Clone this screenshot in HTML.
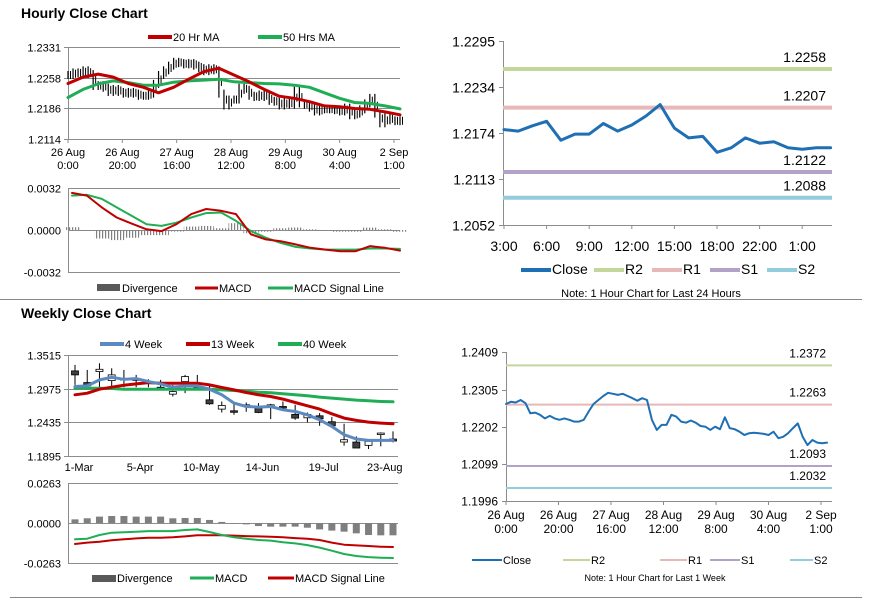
<!DOCTYPE html>
<html><head><meta charset="utf-8">
<style>
html,body{margin:0;padding:0;background:#fff;}
body{width:873px;height:601px;overflow:hidden;font-family:"Liberation Sans",Arial,sans-serif;}
svg{display:block}
text{font-family:"Liberation Sans",Arial,sans-serif;fill:#000;}
</style></head>
<body>
<svg id="root" width="873" height="601" viewBox="0 0 873 601">
<defs>
<pattern id="stripes" width="3" height="4" patternUnits="userSpaceOnUse">
<rect x="0" y="0" width="1.2" height="4" fill="#808080"/>
</pattern>
</defs>
<text x="21" y="18" font-size="14" font-weight="bold">Hourly Close Chart</text>
<text x="21" y="318" font-size="14" font-weight="bold">Weekly Close Chart</text>
<line x1="0" y1="299.5" x2="862" y2="299.5" stroke="#888" stroke-width="1"/>
<line x1="10" y1="597.5" x2="862" y2="597.5" stroke="#888" stroke-width="1"/>
</svg>
<script>
// ---------- Hourly (last week) close data, shared by top-left and bottom-right ----------
const weekClose = [1.2265,1.2271,1.2269,1.2276,1.2267,1.2239,1.2241,1.2235,1.2225,1.2232,1.2225,1.2221,1.2225,1.2221,1.2216,1.2216,1.2221,1.2244,1.2265,1.2276,1.2287,1.2296,1.2293,1.2290,1.2293,1.2287,1.2281,1.2274,1.2281,1.2276,1.2221,1.2193,1.2207,1.2207,1.2235,1.2230,1.2216,1.2213,1.2219,1.2213,1.2204,1.2202,1.2193,1.2202,1.2195,1.2228,1.2198,1.2195,1.2188,1.2179,1.2184,1.2185,1.2184,1.2182,1.2179,1.2188,1.2170,1.2174,1.2184,1.2198,1.2211,1.2174,1.2151,1.2165,1.2158,1.2156,1.2158];
const hourlyTimeLabels = [["26 Aug","0:00"],["26 Aug","20:00"],["27 Aug","16:00"],["28 Aug","12:00"],["29 Aug","8:00"],["30 Aug","4:00"],["2 Sep","1:00"]];
const ma20 = [1.2245,1.2260,1.2267,1.2260,1.2245,1.2236,1.2223,1.2236,1.2255,1.2273,1.2281,1.2265,1.2249,1.2231,1.2215,1.2210,1.2202,1.2192,1.2190,1.2186,1.2184,1.2178,1.2171];
const ma50 = [1.2212,1.2231,1.2244,1.2251,1.2247,1.2241,1.2241,1.2248,1.2251,1.2253,1.2255,1.2249,1.2247,1.2245,1.2244,1.2241,1.2236,1.2223,1.2210,1.2200,1.2198,1.2192,1.2185];
const hourlyPriceTicks = [1.2331,1.2258,1.2186,1.2114];
const hMacd = [0.00283,0.00262,0.00172,0.00095,0.00049,0.00005,-0.00008,0.00044,0.00121,0.0016,0.00146,0.00121,-0.00033,-0.00072,-0.00085,-0.0011,-0.00136,-0.00149,-0.00162,-0.00162,-0.00123,-0.00136,-0.00157];
const hSignal = [0.00262,0.00268,0.00237,0.00172,0.00108,0.00044,0.00031,0.00056,0.00095,0.00129,0.00133,0.00069,-0.00008,-0.00059,-0.00098,-0.00129,-0.00141,-0.00149,-0.00149,-0.00149,-0.00141,-0.00141,-0.00144];
const hMacdTicks = [0.0032,0.0000,-0.0032];

// ---------- Last 24 hours ----------
const dayHours = ["3:00","4:00","5:00","6:00","7:00","8:00","9:00","10:00","11:00","12:00","13:00","14:00","15:00","16:00","17:00","18:00","19:00","20:00","22:00","23:00","0:00","1:00","2:00","3:00"];
const dayClose = [1.2178,1.2176,1.2183,1.2189,1.2164,1.2172,1.2172,1.2186,1.2176,1.2184,1.2196,1.2211,1.2180,1.2167,1.2169,1.2148,1.2154,1.2167,1.2160,1.2162,1.2154,1.2152,1.2154,1.2154];
const dayTicks = [1.2295,1.2234,1.2174,1.2113,1.2052];
const dayLevelNames = ["R2","R1","S1","S2"];
const dayLevels = [1.2258,1.2207,1.2122,1.2088];

// ---------- Last week levels ----------
const weekTicks = [1.2409,1.2305,1.2202,1.2099,1.1996];
const weekLevels = [1.2372,1.2263,1.2093,1.2032];

// ---------- Weekly candles ----------
const weeks = ["1-Mar","8-Mar","15-Mar","22-Mar","29-Mar","5-Apr","12-Apr","19-Apr","26-Apr","3-May","10-May","17-May","24-May","31-May","7-Jun","14-Jun","21-Jun","28-Jun","5-Jul","12-Jul","19-Jul","26-Jul","2-Aug","9-Aug","16-Aug","23-Aug","30-Aug"];
const wOpen  = [1.3260,1.3073,1.3249,1.3105,1.3137,1.3132,1.3089,1.2998,1.2887,1.3089,1.2998,1.2796,1.2647,1.2620,1.2689,1.2663,1.2679,1.2689,1.2562,1.2508,1.2540,1.2444,1.2119,1.2119,1.2066,1.2252,1.2167];
const wClose = [1.3196,1.3020,1.3286,1.3196,1.3126,1.3126,1.3084,1.2982,1.2929,1.3169,1.2982,1.2732,1.2705,1.2604,1.2716,1.2593,1.2716,1.2679,1.2503,1.2562,1.2492,1.2380,1.2156,1.2023,1.2130,1.2263,1.2135];
const wHigh  = [1.3356,1.3276,1.3382,1.3302,1.3276,1.3196,1.3126,1.3116,1.3036,1.3196,1.3196,1.3036,1.2769,1.2732,1.2753,1.2743,1.2732,1.2769,1.2716,1.2593,1.2583,1.2519,1.2412,1.2210,1.2156,1.2274,1.2290];
const wLow   = [1.3036,1.2998,1.2998,1.2998,1.2998,1.2998,1.2998,1.2982,1.2849,1.2903,1.2956,1.2716,1.2593,1.2556,1.2604,1.2583,1.2487,1.2636,1.2476,1.2434,1.2380,1.2380,1.2060,1.2023,1.2007,1.2050,1.2114];
const w4 = [1.3009,1.3020,1.3116,1.3158,1.3126,1.3137,1.3089,1.3052,1.2999,1.3020,1.3020,1.2967,1.2876,1.2743,1.2689,1.2679,1.2689,1.2636,1.2609,1.2556,1.2476,1.2370,1.2236,1.2167,1.2146,1.2146,1.2146];
const w13 = [1.2876,1.2903,1.2967,1.2999,1.3031,1.3052,1.3073,1.3062,1.3062,1.3062,1.3062,1.3036,1.2993,1.2956,1.2913,1.2876,1.2849,1.2807,1.2753,1.2700,1.2647,1.2572,1.2503,1.2466,1.2439,1.2423,1.2412];
const w40 = [1.2983,1.2983,1.2983,1.2977,1.2967,1.2967,1.2967,1.2967,1.2967,1.2967,1.2967,1.2967,1.2956,1.2945,1.2935,1.2919,1.2908,1.2892,1.2876,1.2860,1.2839,1.2823,1.2807,1.2791,1.2780,1.2769,1.2764];
const wPriceTicks = [1.3515,1.2975,1.2435,1.1895];
const wDiv = [0.0024,0.0031,0.0042,0.0046,0.0046,0.0042,0.0042,0.0042,0.0031,0.0033,0.0033,0.0020,0.0007,-0.0002,-0.0009,-0.0020,-0.0024,-0.0024,-0.0024,-0.0031,-0.0042,-0.0050,-0.0057,-0.0068,-0.0079,-0.0081,-0.0081];
const wMacd = [-0.0107,-0.0103,-0.0079,-0.0064,-0.0061,-0.0057,-0.0053,-0.0053,-0.0053,-0.0046,-0.0042,-0.0059,-0.0079,-0.0094,-0.0103,-0.0112,-0.0116,-0.0127,-0.0134,-0.0145,-0.0162,-0.0182,-0.0204,-0.0217,-0.0224,-0.0228,-0.0230];
const wSignal = [-0.0138,-0.0129,-0.0123,-0.0114,-0.0107,-0.0101,-0.0097,-0.0097,-0.0094,-0.0088,-0.0081,-0.0081,-0.0081,-0.0083,-0.0086,-0.0088,-0.0090,-0.0094,-0.0099,-0.0103,-0.0112,-0.0129,-0.0143,-0.0147,-0.0151,-0.0156,-0.0158];
const wMacdTicks = [0.0263,0.0000,-0.0263];
const weekLabelIdx = [0,5,10,15,20,25];

const root = document.getElementById('root');
const NS = 'http://www.w3.org/2000/svg';
function mk(tag, attrs, parent){
  const e = document.createElementNS(NS, tag);
  for (const k in attrs) e.setAttribute(k, attrs[k]);
  (parent||root).appendChild(e);
  return e;
}
function group(name){
  const g = mk('g', {});
  
  
  return g;
}
function lin(v0, v1, p0, p1){ return v => p0 + (v - v0) / (v1 - v0) * (p1 - p0); }
function txt(g, x, y, s, size, anchor){
  const t = mk('text', {x:x, y:y, 'font-size':size||11, 'text-anchor':anchor||'start'}, g);
  t.textContent = s;
  return t;
}
function poly(g, xs, ys, color, w){
  const pts = xs.map((x,i)=>x.toFixed(1)+','+ys[i].toFixed(1)).join(' ');
  return mk('polyline', {points:pts, fill:'none', stroke:color, 'stroke-width':w, 'stroke-linejoin':'round','stroke-linecap':'round'}, g);
}
function yAxis(g, ticks, y, x0, x1, fmtSize, grid){
  ticks.forEach((t,i)=>{
    const yy = Math.round(y(t))+0.5;
    if (grid && i < ticks.length-1) mk('line',{x1:x0,y1:yy,x2:x1,y2:yy,stroke:'#8c8c8c','stroke-width':1},g);
    mk('line',{x1:x0-4,y1:yy,x2:x0,y2:yy,stroke:'#8c8c8c'},g);
    txt(g, x0-7, yy+4, t.toFixed(4), fmtSize||11, 'end');
  });
  mk('line',{x1:x0+0.5,y1:y(ticks[0]),x2:x0+0.5,y2:y(ticks[ticks.length-1]),stroke:'#8c8c8c'},g);
}
function legendItem(g, x, y, color, w, label, len){
  mk('line',{x1:x,y1:y,x2:x+(len||24),y2:y,stroke:color,'stroke-width':w},g);
  txt(g, x+(len||24)+1, y+4, label, 11);
}

// ================= Hourly close (top-left) =================
(function(){
  const g = group('hourly-price-chart');
  const X0 = 68, X1 = 400;
  const y = lin(1.2331, 1.2114, 47, 139);
  yAxis(g, hourlyPriceTicks, y, X0, X1, 11, true);
  mk('line',{x1:X0,y1:139.5,x2:X1,y2:139.5,stroke:'#8c8c8c'},g);
  const xb = i => X0 + i * (X1 - X0) / (weekClose.length - 1);
  weekClose.forEach((c,i)=>{
    const p = i>0 ? weekClose[i-1] : c;
    const hi = Math.max(c,p), lo = Math.min(c,p);
    const b = mk('line',{x1:xb(i),x2:xb(i),y1:y(hi)-4,y2:y(lo)+4,stroke:'#000','stroke-width':1.2},g);
    
    
    const b2 = mk('line',{x1:xb(i)+2.5,x2:xb(i)+2.5,y1:(y(c)+y(p))/2-4,y2:(y(c)+y(p))/2+4,stroke:'#000','stroke-width':1},g);
    
    
  });
  const xm = arr => arr.map((_,i)=> X0 + i*(X1-X0)/(arr.length-1));
  const l50 = poly(g, xm(ma50), ma50.map(y), '#1fae55', 3);
  
  
  const l20 = poly(g, xm(ma20), ma20.map(y), '#c00000', 3);
  
  
  hourlyTimeLabels.forEach((l,k)=>{
    const xx = X0 + k*(394-X0)/6;
    mk('line',{x1:xx,y1:139,x2:xx,y2:143,stroke:'#8c8c8c'},g);
    txt(g, xx, 156, l[0], 11, 'middle');
    txt(g, xx, 169, l[1], 11, 'middle');
  });
  const lg = group('hourly-legend');
  legendItem(lg, 148, 37, '#c00000', 4, '20 Hr MA');
  legendItem(lg, 258, 37, '#1fae55', 4, '50 Hrs MA');
})();

// ================= Hourly MACD =================
(function(){
  const g = group('hourly-macd-chart');
  const X0 = 68, X1 = 400;
  const y = lin(0.0032, -0.0032, 188, 272);
  hMacdTicks.forEach((t,i)=>{
    const yy = Math.round(y(t))+0.5;
    mk('line',{x1:X0,y1:yy,x2:X1,y2:yy,stroke:'#8c8c8c'},g);
    txt(g, X0-7, yy+4, t.toFixed(4), 11, 'end');
  });
  mk('line',{x1:X0+0.5,y1:188,x2:X0+0.5,y2:272,stroke:'#8c8c8c'},g);
  const step = (X1-X0-4)/(hMacd.length-1);
  const xs = hMacd.map((_,i)=> X0 + 4 + i*step);
  hMacd.forEach((m,i)=>{
    const d = m - hSignal[i];
    const r = mk('rect',{x:xs[i]-step/2,y:Math.min(y(d),y(0)),width:step,height:Math.max(1,Math.abs(y(d)-y(0))),fill:'url(#stripes)'},g);
    
    
  });
  const s = poly(g, xs, hSignal.map(y), '#1fae55', 2);
  
  
  const m = poly(g, xs, hMacd.map(y), '#c00000', 2);
  
  
  const lg = group('hourly-macd-legend');
  mk('rect',{x:97,y:284,width:23,height:7,fill:'#595959'},lg);
  txt(lg, 122, 292, 'Divergence', 11);
  legendItem(lg, 195, 288, '#c00000', 3, 'MACD', 23);
  legendItem(lg, 268, 288, '#1fae55', 3, 'MACD Signal Line', 25);
})();

// ================= Last 24 hours (top-right) =================
(function(){
  const g = group('day-levels-chart');
  const X0 = 503, X1 = 832;
  const y = lin(1.2295, 1.2052, 41, 225);
  const x = i => 504 + i * 14.2;
  dayTicks.forEach(t=>{
    const yy = Math.round(y(t))+0.5;
    mk('line',{x1:X0-4,y1:yy,x2:X0,y2:yy,stroke:'#8c8c8c'},g);
    txt(g, X0-8, yy+5, t.toFixed(4), 14, 'end');
  });
  mk('line',{x1:X0+0.5,y1:41,x2:X0+0.5,y2:225,stroke:'#8c8c8c'},g);
  mk('line',{x1:X0,y1:225.5,x2:X1,y2:225.5,stroke:'#8c8c8c'},g);
  const colors = ['#c3d69b','#e6b9b8','#b3a2c7','#93cddd'];
  dayLevels.forEach((v,i)=>{
    const l = mk('line',{x1:X0,y1:y(v),x2:X1,y2:y(v),stroke:colors[i],'stroke-width':4},g);
    
    
    txt(g, 826, y(v)-7, v.toFixed(4), 14, 'end');
  });
  const c = poly(g, dayClose.map((_,i)=>x(i)), dayClose.map(y), '#1f6fb4', 3);
  
  
  dayHours.forEach((h,i)=>{
    if (i % 3 !== 0) return;
    mk('line',{x1:x(i),y1:225,x2:x(i),y2:229,stroke:'#8c8c8c'},g);
    txt(g, x(i), 251, h, 14, 'middle');
  });
  const lg = group('day-legend');
  legendItem(lg, 521, 270, '#1f6fb4', 4, 'Close', 30);
  legendItem(lg, 594, 270, '#c3d69b', 4, 'R2', 30);
  legendItem(lg, 652, 270, '#e6b9b8', 4, 'R1', 30);
  legendItem(lg, 710, 270, '#b3a2c7', 4, 'S1', 30);
  legendItem(lg, 767, 270, '#93cddd', 4, 'S2', 30);
  lg.querySelectorAll('text').forEach(t=>t.setAttribute('font-size','14'));
  txt(lg, 651, 297, 'Note: 1 Hour Chart for Last 24 Hours', 11, 'middle');
})();

// ================= Weekly close (bottom-left) =================
(function(){
  const g = group('weekly-price-chart');
  const X0 = 68, X1 = 398;
  const y = lin(1.3515, 1.1895, 355, 456);
  yAxis(g, wPriceTicks, y, X0, X1, 11, true);
  mk('line',{x1:X0,y1:456.5,x2:X1,y2:456.5,stroke:'#8c8c8c'},g);
  const x = i => 75 + i * (393 - 75) / (weeks.length - 1);
  weeks.forEach((w,i)=>{
    const cg = group('weekly-candle');
    g.appendChild(cg);
    mk('line',{x1:x(i),x2:x(i),y1:y(wHigh[i]),y2:y(wLow[i]),stroke:'#000','stroke-width':1},cg);
    const top = Math.min(y(wOpen[i]),y(wClose[i])), h = Math.max(1.5, Math.abs(y(wOpen[i])-y(wClose[i])));
    const up = wClose[i] >= wOpen[i];
    mk('rect',{x:x(i)-3.5,y:top,width:7,height:h,fill: up ? '#fff' : '#404040',stroke:'#000','stroke-width':0.8},cg);
  });
  const l40 = poly(g, w40.map((_,i)=>x(i)), w40.map(y), '#1fae55', 3);
  
  
  const l13 = poly(g, w13.map((_,i)=>x(i)), w13.map(y), '#c00000', 3);
  
  
  const l4 = poly(g, w4.map((_,i)=>x(i)), w4.map(y), '#5b8ac0', 3);
  
  
  weekLabelIdx.forEach(i=>{
    txt(g, x(i)+4, 471, weeks[i], 11, 'middle');
  });
  const lg = group('weekly-legend');
  legendItem(lg, 100, 344, '#5b8ac0', 4, '4 Week');
  legendItem(lg, 186, 344, '#c00000', 4, '13 Week');
  legendItem(lg, 278, 344, '#1fae55', 4, '40 Week');
})();

// ================= Weekly MACD =================
(function(){
  const g = group('weekly-macd-chart');
  const X0 = 68, X1 = 398;
  const y = lin(0.0263, -0.0263, 483, 563);
  wMacdTicks.forEach(t=>{
    const yy = Math.round(y(t))+0.5;
    mk('line',{x1:X0,y1:yy,x2:X1,y2:yy,stroke:'#8c8c8c'},g);
    txt(g, X0-7, yy+4, t.toFixed(4), 11, 'end');
  });
  mk('line',{x1:X0+0.5,y1:483,x2:X0+0.5,y2:563,stroke:'#8c8c8c'},g);
  const x = i => 75 + i * (393 - 75) / (weeks.length - 1);
  wDiv.forEach((d,i)=>{
    const r = mk('rect',{x:x(i)-3.5,y:Math.min(y(d),y(0)),width:7,height:Math.max(0.5,Math.abs(y(d)-y(0))),fill:'#7f7f7f'},g);
    
    
  });
  const s = poly(g, wSignal.map((_,i)=>x(i)), wSignal.map(y), '#c00000', 2);
  
  
  const m = poly(g, wMacd.map((_,i)=>x(i)), wMacd.map(y), '#1fae55', 2);
  
  
  const lg = group('weekly-macd-legend');
  mk('rect',{x:92,y:575,width:24,height:7,fill:'#595959'},lg);
  txt(lg, 117, 582, 'Divergence', 11);
  legendItem(lg, 190, 578, '#1fae55', 3, 'MACD', 24);
  legendItem(lg, 268, 578, '#c00000', 3, 'MACD Signal Line', 26);
})();

// ================= Last week (bottom-right) =================
(function(){
  const g = group('week-levels-chart');
  const X0 = 506, X1 = 832;
  const y = lin(1.2409, 1.1996, 352, 501);
  weekTicks.forEach(t=>{
    const yy = Math.round(y(t))+0.5;
    mk('line',{x1:X0-4,y1:yy,x2:X0,y2:yy,stroke:'#8c8c8c'},g);
    txt(g, X0-8, yy+4, t.toFixed(4), 12, 'end');
  });
  mk('line',{x1:X0+0.5,y1:352,x2:X0+0.5,y2:501,stroke:'#8c8c8c'},g);
  mk('line',{x1:X0,y1:501.5,x2:X1,y2:501.5,stroke:'#8c8c8c'},g);
  const colors = ['#c3d69b','#e6b9b8','#b3a2c7','#93cddd'];
  weekLevels.forEach((v,i)=>{
    const l = mk('line',{x1:X0,y1:y(v),x2:X1,y2:y(v),stroke:colors[i],'stroke-width':2},g);
    
    
    txt(g, 826, y(v)-8, v.toFixed(4), 12, 'end');
  });
  const x = i => X0 + i * (827 - X0) / (weekClose.length - 1);
  const c = poly(g, weekClose.map((_,i)=>x(i)), weekClose.map(y), '#1f6fb4', 2);
  
  
  hourlyTimeLabels.forEach((l,k)=>{
    const xx = X0 + k*(821-X0)/6;
    mk('line',{x1:xx,y1:501,x2:xx,y2:505,stroke:'#8c8c8c'},g);
    txt(g, xx, 519, l[0], 12, 'middle');
    txt(g, xx, 533, l[1], 12, 'middle');
  });
  const lg = group('week-legend');
  legendItem(lg, 472, 560, '#1f6fb4', 2, 'Close', 30);
  legendItem(lg, 563, 560, '#c3d69b', 2, 'R2', 27);
  legendItem(lg, 660, 560, '#e6b9b8', 2, 'R1', 27);
  legendItem(lg, 710, 560, '#b3a2c7', 2, 'S1', 30);
  legendItem(lg, 790, 560, '#93cddd', 2, 'S2', 23);
  txt(lg, 655, 581, 'Note: 1 Hour Chart for Last 1 Week', 9, 'middle');
})();
</script>
</body></html>
